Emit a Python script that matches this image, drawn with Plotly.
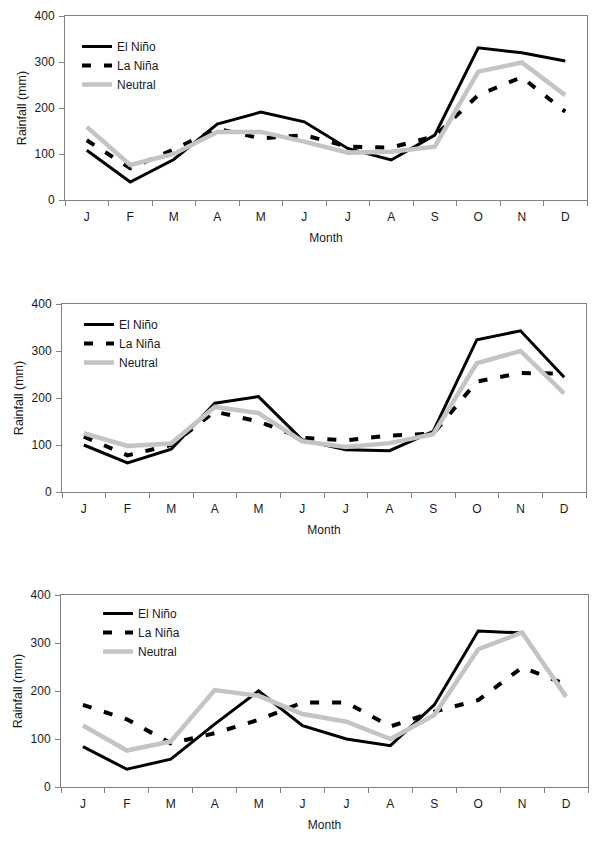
import plotly.graph_objects as go

months = ["J", "F", "M", "A", "M", "J", "J", "A", "S", "O", "N", "D"]
month_keys = ["Jan", "Feb", "Mar", "Apr", "May", "Jun", "Jul", "Aug", "Sep", "Oct", "Nov", "Dec"]

# Panel 1
p1_elnino = [108, 39, 88, 165, 191, 170, 112, 87, 141, 331, 320, 302]
p1_lanina = [130, 69, 110, 155, 134, 141, 116, 114, 139, 228, 267, 192]
p1_neutral = [159, 76, 100, 148, 148, 127, 103, 105, 116, 279, 299, 228]

# Panel 2
p2_elnino = [100, 62, 91, 189, 203, 111, 90, 88, 129, 324, 343, 244]
p2_lanina = [118, 78, 100, 171, 150, 115, 110, 120, 124, 235, 253, 252]
p2_neutral = [125, 98, 103, 181, 168, 108, 96, 104, 123, 274, 300, 210]

# Panel 3
p3_elnino = [84, 37, 58, 131, 200, 128, 100, 86, 171, 325, 321, 190]
p3_lanina = [171, 141, 91, 112, 140, 176, 176, 126, 157, 181, 249, 214]
p3_neutral = [128, 76, 95, 202, 190, 152, 136, 100, 150, 287, 322, 188]

series_names = ["El Niño", "La Niña", "Neutral"]

# page body has an 8px margin, so the figure is drawn 8px smaller and offset
OFF = 8
W, H = 600 - OFF, 856 - OFF
FONT = "Liberation Sans, Arial, sans-serif"

# plot-area boxes in page pixels (left, right, top, bottom), legend (x, top)
panels = [
    (p1_elnino, p1_lanina, p1_neutral, (65, 587, 16, 200), (77, 32)),
    (p2_elnino, p2_lanina, p2_neutral, (62, 586, 304, 492), (79, 310)),
    (p3_elnino, p3_lanina, p3_neutral, (61, 588, 595, 787), (98, 599)),
]

fig = go.Figure()
styles = [
    dict(color="black", width=3),
    dict(color="black", width=4, dash="9px,13px"),
    dict(color="#C4C4C4", width=4.5),
]

layout = dict(
    width=W, height=H,
    margin=dict(l=0, r=0, t=0, b=0),
    paper_bgcolor="white", plot_bgcolor="white",
    font=dict(family=FONT, size=12, color="#1a1a1a"),
    showlegend=True,
)

def fx(px):
    return (px - OFF) / W

def fy(py):
    return 1 - (py - OFF) / H

for i, (el, la, ne, (x0, x1, y0, y1), (lx, ly)) in enumerate(panels):
    sfx = "" if i == 0 else str(i + 1)
    xa = "x" + sfx
    ya = "y" + sfx
    leg = "legend" + sfx
    for name, vals, st in zip(series_names, [el, la, ne], styles):
        fig.add_trace(go.Scatter(
            x=month_keys, y=vals, mode="lines", name=name,
            line=st, xaxis=xa, yaxis=ya, legend=leg,
        ))
    layout["xaxis" + sfx] = dict(
        domain=[fx(x0), fx(x1)], anchor=ya, type="category",
        tickmode="array", tickvals=month_keys, ticktext=months,
        tickson="boundaries", ticks="outside", ticklen=5, tickcolor="#808080",
        showline=True, linecolor="#808080", linewidth=1, mirror=True,
        showgrid=False, zeroline=False, range=[-0.5, 11.5],
        ticklabelstandoff=6,
        title=dict(text="Month", standoff=10, font=dict(size=12)),
        tickfont=dict(size=12), automargin=False,
    )
    layout["yaxis" + sfx] = dict(
        domain=[fy(y1), fy(y0)], anchor=xa,
        range=[0, 400], dtick=100, ticks="outside", ticklen=5, tickcolor="#808080",
        showline=True, linecolor="#808080", linewidth=1, mirror=True,
        showgrid=False, zeroline=False,
        ticklabelstandoff=2,
        title=dict(text="Rainfall (mm)", standoff=5, font=dict(size=12.5)),
        tickfont=dict(size=12), automargin=False,
    )
    layout[leg] = dict(
        x=fx(lx), y=fy(ly), xanchor="left", yanchor="top",
        bgcolor="rgba(0,0,0,0)", borderwidth=0,
        font=dict(size=12, color="#1a1a1a"), tracegroupgap=0,
    )

fig.update_layout(**layout)
fig.write_html("out.html")
